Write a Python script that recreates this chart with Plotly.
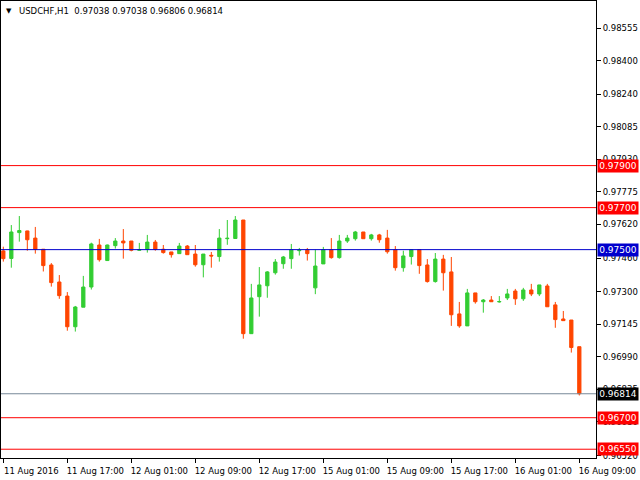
import plotly.graph_objects as go

symbol = "USDCHF,H1"
opens = [
    0.97494, 0.97458, 0.97581, 0.97589, 0.97555, 0.97502, 0.97427, 0.97346, 0.97279, 0.97133,
    0.97226, 0.97322, 0.97522, 0.97448, 0.97519, 0.97541, 0.97541, 0.97497, 0.97502, 0.97536,
    0.97502, 0.97489, 0.97481, 0.97517, 0.97479, 0.97428, 0.97473, 0.97467, 0.97552, 0.97553,
    0.97641, 0.97100, 0.97276, 0.97328, 0.97390, 0.97433, 0.97457, 0.97495, 0.97500, 0.97318,
    0.97432, 0.97500, 0.97462, 0.97541, 0.97552, 0.97584, 0.97552, 0.97570, 0.97555, 0.97500,
    0.97414, 0.97467, 0.97500, 0.97427, 0.97348, 0.97455, 0.97394, 0.97194, 0.97137, 0.97294,
    0.97252, 0.97260, 0.97251, 0.97270, 0.97303, 0.97266, 0.97308, 0.97289, 0.97327, 0.97237,
    0.97170, 0.97165, 0.97038]
highs = [
    0.97514, 0.97617, 0.97660, 0.97590, 0.97608, 0.97502, 0.97436, 0.97379, 0.97298, 0.97232,
    0.97375, 0.97533, 0.97551, 0.97524, 0.97555, 0.97598, 0.97541, 0.97532, 0.97570, 0.97546,
    0.97522, 0.97489, 0.97532, 0.97522, 0.97522, 0.97479, 0.97489, 0.97598, 0.97641, 0.97660,
    0.97641, 0.97337, 0.97417, 0.97398, 0.97455, 0.97470, 0.97527, 0.97508, 0.97508, 0.97500,
    0.97513, 0.97555, 0.97570, 0.97570, 0.97589, 0.97584, 0.97575, 0.97575, 0.97594, 0.97517,
    0.97495, 0.97500, 0.97500, 0.97455, 0.97484, 0.97475, 0.97465, 0.97251, 0.97313, 0.97294,
    0.97265, 0.97279, 0.97279, 0.97313, 0.97313, 0.97318, 0.97337, 0.97332, 0.97337, 0.97251,
    0.97208, 0.97165, 0.97038]
lows = [
    0.97443, 0.97414, 0.97538, 0.97495, 0.97481, 0.97396, 0.97324, 0.97266, 0.97114, 0.97110,
    0.97226, 0.97310, 0.97443, 0.97446, 0.97505, 0.97457, 0.97492, 0.97495, 0.97486, 0.97495,
    0.97481, 0.97462, 0.97481, 0.97476, 0.97419, 0.97368, 0.97414, 0.97443, 0.97523, 0.97552,
    0.97076, 0.97099, 0.97181, 0.97271, 0.97381, 0.97409, 0.97409, 0.97472, 0.97448, 0.97288,
    0.97432, 0.97457, 0.97457, 0.97532, 0.97543, 0.97552, 0.97543, 0.97533, 0.97481, 0.97400,
    0.97395, 0.97429, 0.97385, 0.97343, 0.97343, 0.97305, 0.97137, 0.97128, 0.97137, 0.97243,
    0.97200, 0.97252, 0.97248, 0.97260, 0.97237, 0.97256, 0.97279, 0.97279, 0.97228, 0.97128,
    0.97162, 0.97010, 0.96806]
closes = [
    0.97457, 0.97584, 0.97591, 0.97547, 0.97502, 0.97424, 0.97343, 0.97281, 0.97133, 0.97227,
    0.97322, 0.97527, 0.97452, 0.97522, 0.97541, 0.97532, 0.97497, 0.97500, 0.97536, 0.97502,
    0.97486, 0.97476, 0.97517, 0.97476, 0.97428, 0.97479, 0.97470, 0.97555, 0.97554, 0.97641,
    0.97100, 0.97270, 0.97332, 0.97394, 0.97441, 0.97465, 0.97500, 0.97497, 0.97481, 0.97422,
    0.97500, 0.97462, 0.97541, 0.97555, 0.97584, 0.97552, 0.97570, 0.97547, 0.97490, 0.97414,
    0.97470, 0.97500, 0.97424, 0.97348, 0.97455, 0.97390, 0.97190, 0.97137, 0.97294, 0.97252,
    0.97260, 0.97252, 0.97253, 0.97289, 0.97266, 0.97308, 0.97289, 0.97332, 0.97228, 0.97167,
    0.97162, 0.97034, 0.96814]

time_ticks = [0, 8, 16, 24, 32, 40, 48, 56, 64, 72]
time_labels = ["11 Aug 2016", "11 Aug 17:00", "12 Aug 01:00", "12 Aug 09:00", "12 Aug 17:00",
               "15 Aug 01:00", "15 Aug 09:00", "15 Aug 17:00", "16 Aug 01:00", "16 Aug 09:00"]
price_ticks = [0.98555, 0.98400, 0.98240, 0.98085, 0.97930, 0.97775, 0.97620, 0.97460,
               0.97300, 0.97145, 0.96990, 0.96835, 0.96680, 0.96520]

red_levels = [0.97900, 0.97700, 0.96700, 0.96550]
blue_level = 0.97500
bid_price = closes[-1]

FONT = "DejaVu Sans"
FS = 8.5
BULL = "#32cd32"
BEAR = "#ff4500"
RED = "#ff0000"
BLUE = "#0000cd"
BIDLINE = "#778899"

x = list(range(len(opens)))

fig = go.Figure()
fig.add_trace(go.Candlestick(
    x=x, open=opens, high=highs, low=lows, close=closes,
    increasing=dict(line=dict(color=BULL, width=1), fillcolor=BULL),
    decreasing=dict(line=dict(color=BEAR, width=1), fillcolor=BEAR),
    whiskerwidth=0, hoverinfo="skip", showlegend=False,
))

shapes = []
for lv in red_levels:
    shapes.append(dict(type="line", xref="paper", x0=0, x1=1, yref="y", y0=lv, y1=lv,
                       line=dict(color=RED, width=1), layer="above"))
shapes.append(dict(type="line", xref="paper", x0=0, x1=1, yref="y", y0=blue_level, y1=blue_level,
                   line=dict(color=BLUE, width=1), layer="above"))
shapes.append(dict(type="line", xref="paper", x0=0, x1=1, yref="y", y0=bid_price, y1=bid_price,
                   line=dict(color=BIDLINE, width=1), layer="above"))


def price_box(level, bg):
    return dict(xref="paper", x=1, xanchor="left", xshift=1, yref="y", y=level,
                yanchor="middle", text=f"{level:.5f}", showarrow=False,
                font=dict(family=FONT, size=9, color="white"),
                bgcolor=bg, borderpad=0, width=40, height=12, align="center")


annotations = [price_box(lv, RED) for lv in red_levels]
annotations.append(price_box(blue_level, BLUE))
annotations.append(price_box(bid_price, "black"))
header = f"{symbol}  {opens[-1]:.5f} {highs[-1]:.5f} {lows[-1]:.5f} {closes[-1]:.5f}"
annotations.append(dict(xref="paper", x=0, xanchor="left", xshift=16, yref="paper", y=1,
                        yanchor="top", yshift=-3, text=header, showarrow=False,
                        font=dict(family=FONT, size=FS, color="black")))
annotations.append(dict(xref="paper", x=0, xanchor="left", xshift=3, yref="paper", y=1,
                        yanchor="top", yshift=-4, text="▼", showarrow=False,
                        font=dict(family=FONT, size=7, color="black")))

fig.update_layout(
    width=640, height=480,
    margin=dict(l=1, r=44, t=1, b=22, pad=0),
    paper_bgcolor="white", plot_bgcolor="white",
    boxgap=0.42,
    shapes=shapes, annotations=annotations,
    showlegend=False,
    font=dict(family=FONT, size=FS, color="black"),
    xaxis=dict(
        range=[-0.29, 74.085], rangeslider=dict(visible=False),
        tickmode="array", tickvals=time_ticks, ticktext=time_labels,
        ticks="outside", ticklen=4, tickcolor="black", tickwidth=1,
        showgrid=False, zeroline=False,
        showline=True, linecolor="black", linewidth=1, mirror=True,
        ticklabelshift=28, ticklabelstandoff=1, ticklabeloverflow="allow",
        tickfont=dict(family=FONT, size=FS, color="black"),
    ),
    yaxis=dict(
        range=[0.965082, 0.986835], side="right",
        tickmode="array", tickvals=price_ticks, ticktext=[f"{v:.5f}" for v in price_ticks],
        ticks="outside", ticklen=4, tickcolor="black", tickwidth=1,
        showgrid=False, zeroline=False,
        showline=True, linecolor="black", linewidth=1, mirror=True,
        tickfont=dict(family=FONT, size=FS, color="black"),
    ),
)

fig.write_html("out.html")
